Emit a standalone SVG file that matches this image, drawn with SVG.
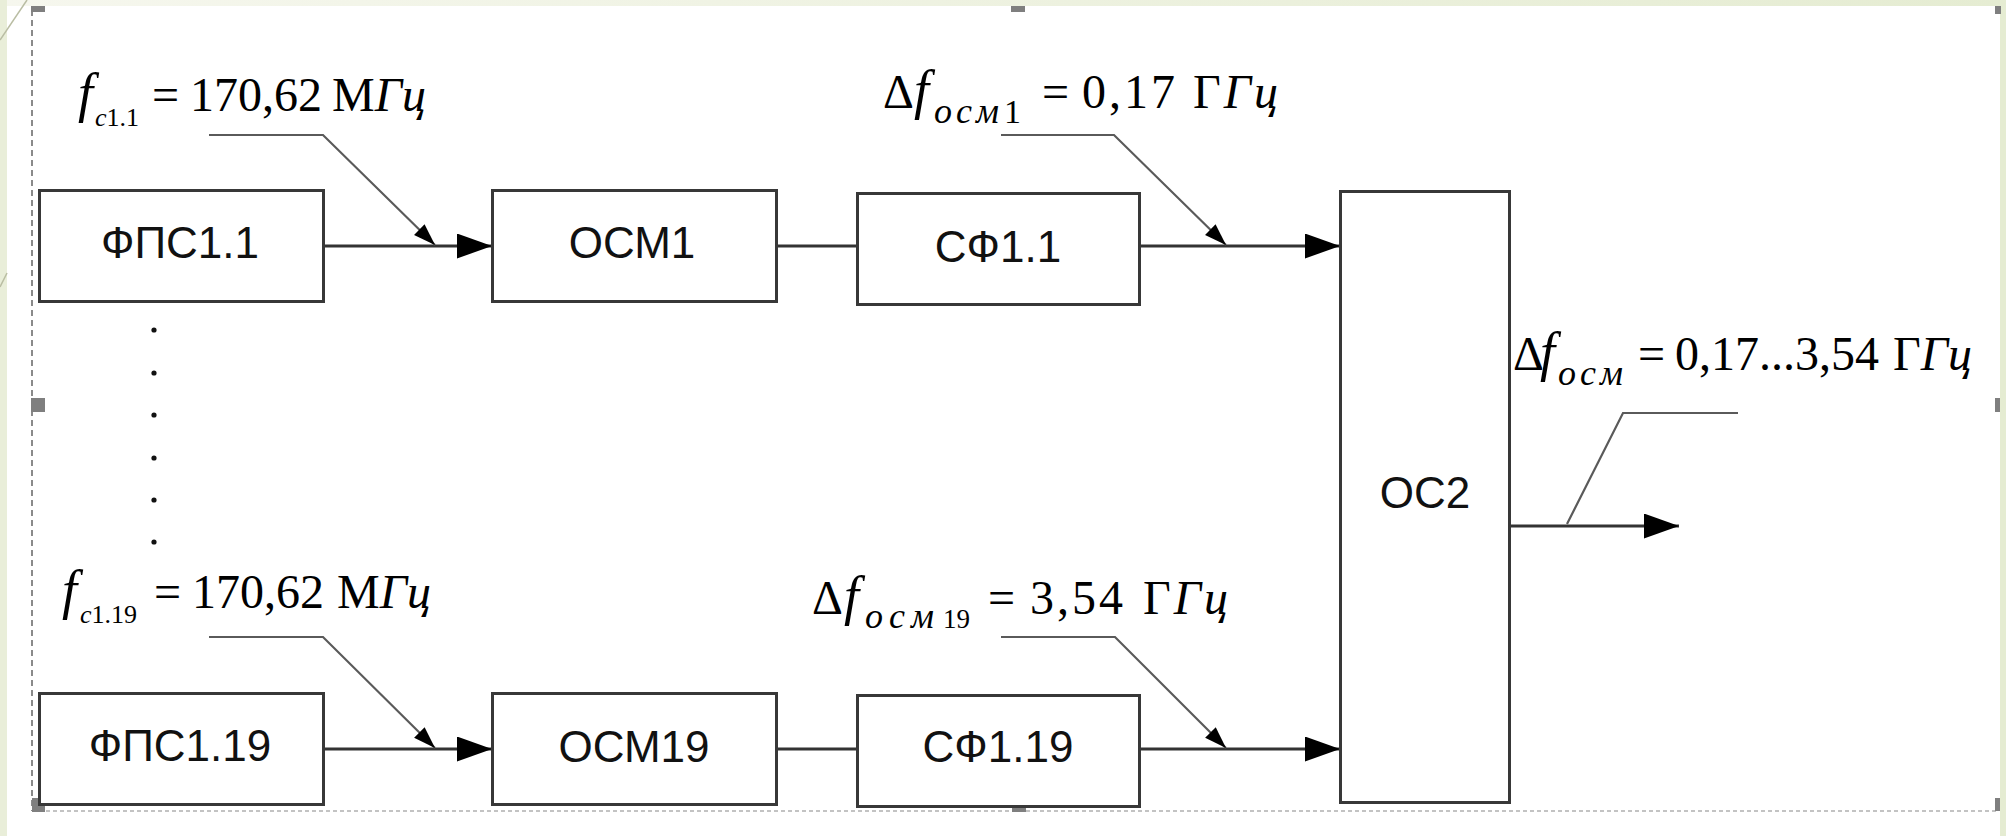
<svg xmlns="http://www.w3.org/2000/svg" width="2006" height="836" viewBox="0 0 2006 836">
<defs>
<linearGradient id="topband" x1="0" y1="0" x2="1" y2="0">
<stop offset="0" stop-color="#f6f7ee"/>
<stop offset="1" stop-color="#e5ecd2"/>
</linearGradient>
<marker id="arr" markerUnits="userSpaceOnUse" markerWidth="36" markerHeight="26" refX="35" refY="12.5" orient="auto">
<path d="M0,0 L35,12.5 L0,25 z" fill="#000"/>
</marker>
<marker id="arrs" markerUnits="userSpaceOnUse" markerWidth="24" markerHeight="16" refX="22" refY="7.5" orient="auto">
<path d="M0,0 L22,7.5 L0,15 z" fill="#000"/>
</marker>
<style>
.box{fill:#fff;stroke:#383838;stroke-width:3}
.bt{font-family:"Liberation Sans",Arial,sans-serif;font-size:44px;fill:#111;text-anchor:middle}
.wire{fill:none;stroke:#333;stroke-width:3}
.lead{fill:none;stroke:#5a5a5a;stroke-width:2.2}
.lab{font-family:"Liberation Serif","Times New Roman",serif;font-size:48px;fill:#000}
.it{font-style:italic}
.ff{font-style:italic;font-size:54px}
.sub{font-size:36px;font-style:italic}
.sub2{font-size:26px}
.hd{fill:#7f7f7f}
</style>
</defs>
<rect x="0" y="0" width="2006" height="836" fill="#fff"/>
<rect x="0" y="0" width="2006" height="6" fill="url(#topband)"/>
<rect x="0" y="0" width="7" height="836" fill="#e9eed9"/>
<rect x="2000" y="0" width="6" height="836" fill="#e5ecd2"/>
<g id="decor" stroke="#b9bda3" stroke-width="1.5" fill="none">
<line x1="0" y1="40" x2="27" y2="0"/>
<line x1="0" y1="287" x2="7" y2="273"/>
</g>
<g id="frame">
<line x1="32" y1="10" x2="32" y2="811" stroke="#8a8a8a" stroke-width="2" stroke-dasharray="6 4"/>
<line x1="32" y1="811" x2="1996" y2="811" stroke="#b0b0b0" stroke-width="1.5" stroke-dasharray="4 3"/>
<rect class="hd" x="31" y="6" width="14" height="6"/>
<rect class="hd" x="1011" y="6" width="14" height="6"/>
<rect class="hd" x="1995" y="6" width="6" height="8"/>
<rect class="hd" x="31" y="398" width="14" height="14"/>
<rect class="hd" x="1995" y="398" width="5" height="14"/>
<rect class="hd" x="32" y="798" width="13" height="14"/>
<rect class="hd" x="1012" y="798" width="14" height="14"/>
<rect class="hd" x="1995" y="798" width="5" height="13"/>
</g>
<g id="connectors">
<line class="wire" x1="323" y1="246" x2="492" y2="246" marker-end="url(#arr)"/>
<line class="wire" x1="776" y1="246" x2="857" y2="246"/>
<line class="wire" x1="1140" y1="246" x2="1340" y2="246" marker-end="url(#arr)"/>
<line class="wire" x1="323" y1="749" x2="492" y2="749" marker-end="url(#arr)"/>
<line class="wire" x1="776" y1="749" x2="857" y2="749"/>
<line class="wire" x1="1139" y1="749" x2="1340" y2="749" marker-end="url(#arr)"/>
<line class="wire" x1="1510" y1="526" x2="1679" y2="526" stroke="#111" marker-end="url(#arr)"/>
<polyline class="lead" points="209,135 323,135 435,245" marker-end="url(#arrs)"/>
<polyline class="lead" points="1001,135 1114,135 1226,245" marker-end="url(#arrs)"/>
<polyline class="lead" points="209,637 323,637 435,748" marker-end="url(#arrs)"/>
<polyline class="lead" points="1001,637 1115,637 1226,748" marker-end="url(#arrs)"/>
<polyline class="lead" stroke="#222" points="1738,413 1623,413 1567,524"/>
</g>
<g id="n-fps11"><rect class="box" x="39.5" y="190.5" width="284" height="111"/><text class="bt" x="180" y="258">ФПС1.1</text></g>
<g id="n-osm1"><rect class="box" x="492.5" y="190.5" width="284" height="111"/><text class="bt" x="632" y="258">ОСМ1</text></g>
<g id="n-sf11"><rect class="box" x="857.5" y="193.5" width="282" height="111"/><text class="bt" x="998" y="262">СФ1.1</text></g>
<g id="n-oc2"><rect class="box" x="1340.5" y="191.5" width="169" height="611"/><text class="bt" x="1425" y="508">ОС2</text></g>
<g id="n-fps119"><rect class="box" x="39.5" y="693.5" width="284" height="111"/><text class="bt" x="180" y="761">ФПС1.19</text></g>
<g id="n-osm19"><rect class="box" x="492.5" y="693.5" width="284" height="111"/><text class="bt" x="634" y="762">ОСМ19</text></g>
<g id="n-sf119"><rect class="box" x="857.5" y="695.5" width="282" height="111"/><text class="bt" x="998" y="762">СФ1.19</text></g>
<g id="dots" fill="#111">
<circle cx="154" cy="330" r="2.6"/>
<circle cx="154" cy="373" r="2.6"/>
<circle cx="154" cy="415" r="2.6"/>
<circle cx="154" cy="458" r="2.6"/>
<circle cx="154" cy="500" r="2.6"/>
<circle cx="154" cy="542" r="2.6"/>
</g>
<g id="labels">
<text class="lab" y="111"><tspan class="ff" x="78">f</tspan><tspan class="sub2" x="95" y="126"><tspan class="it">с</tspan>1.1</tspan><tspan x="152" y="111">=</tspan><tspan x="190">170,62</tspan><tspan x="332">М</tspan><tspan class="it">Гц</tspan></text>
<text class="lab" y="608"><tspan class="ff" x="62">f</tspan><tspan class="sub2" x="80" y="623"><tspan class="it">с</tspan>1.19</tspan><tspan x="154" y="608">=</tspan><tspan x="192">170,62</tspan><tspan x="337">М</tspan><tspan class="it">Гц</tspan></text>
<text class="lab" y="108"><tspan x="883">Δ</tspan><tspan class="ff" x="914">f</tspan><tspan class="sub" x="934" y="123" letter-spacing="4">осм</tspan><tspan font-size="34" x="1004" y="123">1</tspan><tspan x="1042" y="108">=</tspan><tspan x="1082" letter-spacing="3">0,17</tspan><tspan x="1193" letter-spacing="3">Г<tspan class="it">Гц</tspan></tspan></text>
<text class="lab" y="614"><tspan x="812">Δ</tspan><tspan class="ff" x="844">f</tspan><tspan class="sub" x="865" y="628" letter-spacing="6">осм</tspan><tspan font-size="27" x="943" y="628">19</tspan><tspan x="988" y="614">=</tspan><tspan x="1030" letter-spacing="3">3,54</tspan><tspan x="1143" letter-spacing="3">Г<tspan class="it">Гц</tspan></tspan></text>
<text class="lab" y="370"><tspan x="1513">Δ</tspan><tspan class="ff" x="1540">f</tspan><tspan class="sub" x="1558" y="385" letter-spacing="4">осм</tspan><tspan x="1638" y="370">=</tspan><tspan x="1675">0,17...3,54</tspan><tspan x="1893">Г<tspan class="it">Гц</tspan></tspan></text>
</g>
</svg>
